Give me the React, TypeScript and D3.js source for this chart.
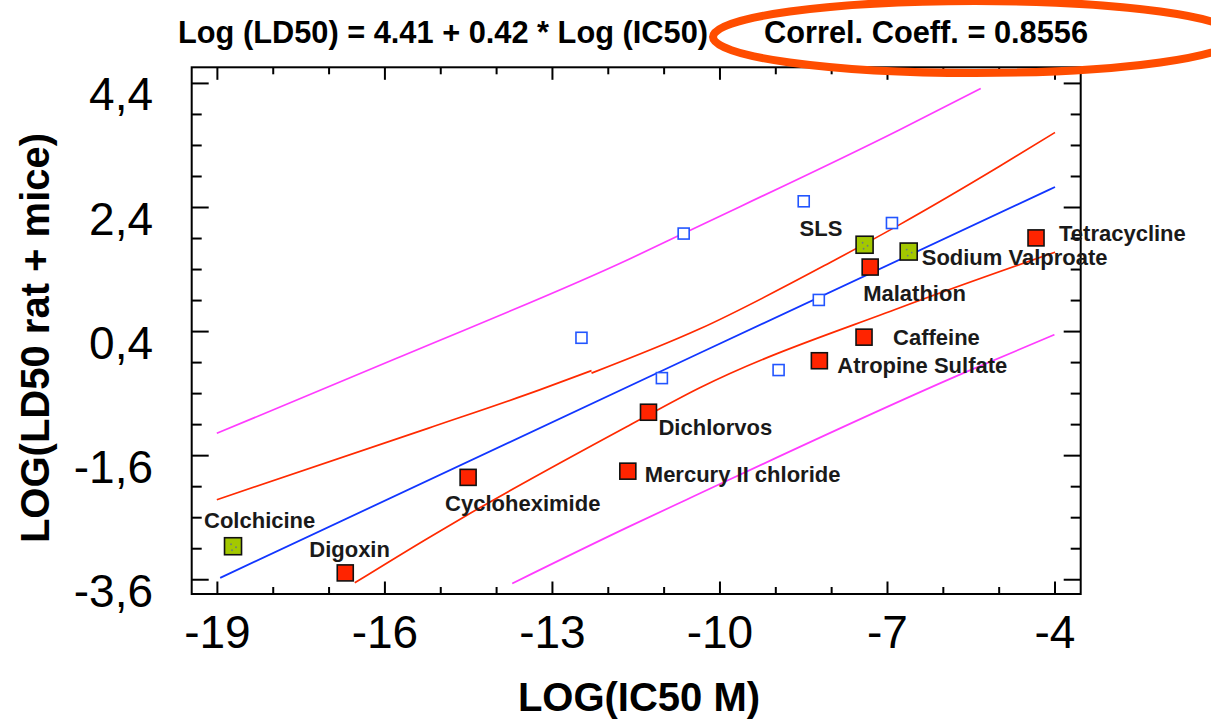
import React from "react";
import * as d3 from "d3";

// ---------- data ----------
const compoundNames = [
  "Tetracycline",
  "Sodium Valproate",
  "SLS",
  "Malathion",
  "Caffeine",
  "Atropine Sulfate",
  "Dichlorvos",
  "Mercury II chloride",
  "Cycloheximide",
  "Colchicine",
  "Digoxin",
];
const compoundIC50 = [-4.34, -6.62, -7.41, -7.31, -7.42, -8.22, -11.28, -11.65, -14.51, -18.72, -16.71];
const compoundLD50 = [1.91, 1.69, 1.8, 1.44, 0.31, -0.07, -0.9, -1.85, -1.95, -3.06, -3.49];
const compoundGroup = ["red", "green", "green", "red", "red", "red", "red", "red", "red", "green", "red"];

const otherIC50 = [-8.5, -10.65, -6.92, -8.23, -12.48, -11.04, -8.95];
const otherLD50 = [2.5, 1.98, 2.15, 0.91, 0.3, -0.35, -0.22];

const regressionLine: [number, number][] = [
  [-18.95, -3.57],
  [-10.37, 0.05],
  [-4.0, 2.73],
];
// upper confidence band drawn in two pieces (small step near -12.3)
const upperConfidenceLeft: [number, number][] = [
  [-19.01, -2.31],
  [-15.23, -1.16],
  [-13.23, -0.54],
  [-12.3, -0.23],
];
const upperConfidenceRight: [number, number][] = [
  [-12.3, -0.27],
  [-10.37, 0.44],
  [-7.95, 1.55],
  [-6.79, 2.12],
  [-5.0, 3.06],
  [-4.0, 3.61],
];
const lowerConfidence: [number, number][] = [
  [-16.54, -3.65],
  [-15.23, -2.93],
  [-14.57, -2.58],
  [-11.62, -1.11],
  [-10.37, -0.51],
  [-6.79, 0.78],
  [-4.0, 1.68],
];
const upperPrediction: [number, number][] = [
  [-19.01, -1.24],
  [-15.79, -0.03],
  [-11.62, 1.57],
  [-10.66, 1.98],
  [-6.79, 3.65],
  [-5.33, 4.32],
];
const lowerPrediction: [number, number][] = [
  [-13.72, -3.66],
  [-11.62, -2.74],
  [-10.6, -2.31],
  [-5.59, -0.25],
  [-4.01, 0.35],
];

const xMajorTicks = [-19, -16, -13, -10, -7, -4];
const xMinorTicks = d3.range(-19, -3.5, 1);
const yMajorTicks = [4.4, 2.4, 0.4, -1.6, -3.6];
const yMinorTicks = d3.range(-3.6, 4.41, 0.5);
const yTickLabels = ["4,4", "2,4", "0,4", "-1,6", "-3,6"];

const titleEquation = "Log (LD50) = 4.41 + 0.42 * Log (IC50)";
const titleCorrel = "Correl. Coeff. = 0.8556";
const xTitle = "LOG(IC50 M)";
const yTitle = "LOG(LD50 rat + mice)";

// label placement offsets (pixels, relative to marker centre): [dx, dy baseline]
const labelOffsets: [number, number][] = [
  [23, 3],
  [13, 13],
  [-65, -9],
  [-7, 34],
  [29, 8],
  [18, 12],
  [10, 23],
  [17, 11],
  [-23, 34],
  [-29, -18],
  [-36, -16],
];

// ---------- layout ----------
const W = 1211;
const H = 721;
const left = 191.7;
const right = 1080.7;
const top = 67.3;
const bottom = 594;

export default function App() {
  const x = d3.scaleLinear().domain([-19.46, -3.54]).range([left, right]);
  const y = d3.scaleLinear().domain([-3.83, 4.66]).range([bottom, top]);
  const line = d3
    .line<[number, number]>()
    .x((d) => x(d[0]))
    .y((d) => y(d[1]))
    .curve(d3.curveMonotoneX);

  const font = "'Liberation Sans', Arial, Helvetica, sans-serif";
  const redSize = 16;
  const greenSize = 17;
  const blueSize = 11;

  return (
    <svg
      width={W}
      height={H}
      style={{ position: "absolute", left: 0, top: 0, background: "#fff" }}
      fontFamily={font}
    >
      <rect x={0} y={0} width={W} height={H} fill="#fff" />
      {/* title */}
      <text x={178} y={43} fontSize={31} fontWeight="bold" textLength={530} lengthAdjust="spacingAndGlyphs" fill="#000">
        {titleEquation}
      </text>
      <text x={764} y={43} fontSize={31} fontWeight="bold" textLength={324} lengthAdjust="spacingAndGlyphs" fill="#000">
        {titleCorrel}
      </text>

      {/* lines */}
      <path d={line(upperPrediction) || ""} fill="none" stroke="#ff3cff" strokeWidth={1.7} />
      <path d={line(lowerPrediction) || ""} fill="none" stroke="#ff3cff" strokeWidth={1.7} />
      <path d={line(upperConfidenceLeft) || ""} fill="none" stroke="#ff2a00" strokeWidth={1.7} />
      <path d={line(upperConfidenceRight) || ""} fill="none" stroke="#ff2a00" strokeWidth={1.7} />
      <path d={line(lowerConfidence) || ""} fill="none" stroke="#ff2a00" strokeWidth={1.7} />
      <path d={line(regressionLine) || ""} fill="none" stroke="#1236ff" strokeWidth={1.8} />

      {/* frame */}
      <rect x={left} y={top} width={right - left} height={bottom - top} fill="none" stroke="#000" strokeWidth={2} />

      {/* x ticks */}
      {xMinorTicks.map((t) => {
        const major = xMajorTicks.includes(t);
        const len = major ? 12.5 : 7;
        return (
          <g key={"xt" + t}>
            <line x1={x(t)} x2={x(t)} y1={bottom} y2={bottom - len} stroke="#000" strokeWidth={2} />
            <line x1={x(t)} x2={x(t)} y1={top} y2={top + len} stroke="#000" strokeWidth={2} />
          </g>
        );
      })}
      {/* y ticks */}
      {yMinorTicks.map((t) => {
        const major = yMajorTicks.some((m) => Math.abs(m - t) < 1e-6);
        const len = major ? 17 : 10;
        return (
          <g key={"yt" + t}>
            <line x1={left} x2={left + len} y1={y(t)} y2={y(t)} stroke="#000" strokeWidth={2} />
            <line x1={right} x2={right - len} y1={y(t)} y2={y(t)} stroke="#000" strokeWidth={2} />
          </g>
        );
      })}

      {/* tick labels */}
      {xMajorTicks.map((t) => (
        <text key={"xl" + t} x={x(t)} y={648} fontSize={46} textAnchor="middle" fill="#000">
          {String(t)}
        </text>
      ))}
      {yMajorTicks.map((t, i) => (
        <text key={"yl" + t} x={153} y={y(t) + 27} fontSize={46} textAnchor="end" fill="#000">
          {yTickLabels[i]}
        </text>
      ))}

      {/* axis titles */}
      <text x={639} y={711} fontSize={40} fontWeight="bold" textAnchor="middle" fill="#000">
        {xTitle}
      </text>
      <text
        transform={`translate(49,338) rotate(-90)`}
        fontSize={40}
        fontWeight="bold"
        textAnchor="middle"
        fill="#000"
      >
        {yTitle}
      </text>

      {/* other (unlabelled) compounds */}
      {otherIC50.map((v, i) => (
        <rect
          key={"o" + i}
          x={x(v) - blueSize / 2}
          y={y(otherLD50[i]) - blueSize / 2}
          width={blueSize}
          height={blueSize}
          fill="#fff"
          stroke="#2255ff"
          strokeWidth={1.6}
        />
      ))}

      {/* labelled compounds */}
      {compoundIC50.map((v, i) => {
        const cx = x(v);
        const cy = y(compoundLD50[i]);
        const green = compoundGroup[i] === "green";
        const s = green ? greenSize : redSize;
        return (
          <g key={"c" + i}>
            <rect
              x={cx - s / 2}
              y={cy - s / 2}
              width={s}
              height={s}
              fill={green ? "#a3c800" : "#ff2400"}
              stroke="#111"
              strokeWidth={1.6}
            />
            {green && (
              <g fill="#6a7a80">
                <circle cx={cx - 2} cy={cy - 2} r={0.9} />
                <circle cx={cx + 3} cy={cy + 1} r={0.9} />
                <circle cx={cx - 1} cy={cy + 4} r={0.9} />
              </g>
            )}
          </g>
        );
      })}
      {compoundNames.map((n, i) => {
        const cx = x(compoundIC50[i]);
        const cy = y(compoundLD50[i]);
        return (
          <text
            key={"n" + i}
            x={cx + labelOffsets[i][0]}
            y={cy + labelOffsets[i][1]}
            fontSize={22}
            fontWeight="bold"
            fill="#1a1a1a"
          >
            {n}
          </text>
        );
      })}

      {/* annotation ellipse */}
      <ellipse cx={975} cy={37} rx={262} ry={36} fill="none" stroke="#ff4d00" strokeWidth={8} />
    </svg>
  );
}
